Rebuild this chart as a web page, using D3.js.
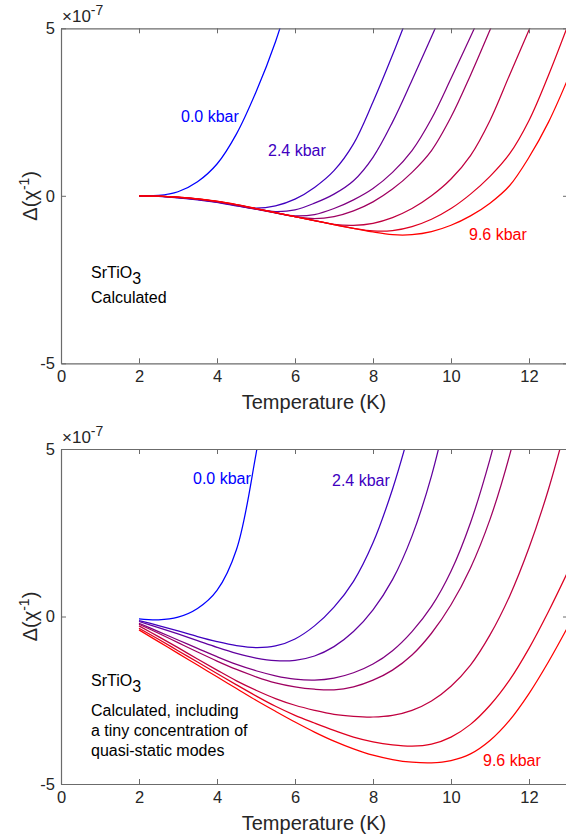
<!DOCTYPE html>
<html><head><meta charset="utf-8">
<script src="https://cdn.jsdelivr.net/npm/d3@7"></script>
<style>
html,body{margin:0;padding:0;background:#fff;}
svg{display:block;font-family:"Liberation Sans",Arial,Helvetica,sans-serif;}
</style></head>
<body><svg id="chart" width="566" height="840"></svg>
<script>
// ---------- DATA (values in units of 1e-7) ----------
const pressures = [0.0, 2.4, 3.6, 4.8, 6.0, 7.2, 8.4, 9.6];
const tStart = 2, tStep = 0.5;           // temperature grid of the sampled values (K)
const xTicks = [0, 2, 4, 6, 8, 10, 12];
const yTicks = [-5, 0, 5];

// Top panel: "Calculated"
const top00 = [0, 0.01, 0.12, 0.42, 0.95, 1.85, 3.1, 4.6, 6.5];
const top24 = [0, -0.015, -0.06, -0.12, -0.2, -0.3, -0.37, -0.3, -0.1, 0.25, 0.75, 1.55, 2.8, 4.2, 5.7];
const top36 = [0, -0.013, -0.055, -0.11, -0.19, -0.29, -0.4, -0.47, -0.42, -0.22, 0.05, 0.45, 1.15, 2.2, 3.45, 4.75, 6.05];
const top48 = [0, -0.012, -0.05, -0.105, -0.18, -0.28, -0.4, -0.51, -0.6, -0.56, -0.38, -0.12, 0.22, 0.7, 1.35, 2.3, 3.5, 4.75, 6.0];
const top60 = [0, -0.011, -0.047, -0.1, -0.175, -0.275, -0.39, -0.51, -0.62, -0.68, -0.62, -0.45, -0.18, 0.2, 0.7, 1.35, 2.35, 3.6, 4.95, 6.35];
const top72 = [0, -0.01, -0.044, -0.095, -0.17, -0.27, -0.385, -0.505, -0.625, -0.74, -0.85, -0.88, -0.82, -0.65, -0.38, 0.0, 0.5, 1.2, 2.25, 3.6, 4.95, 6.3];
const top84 = [0, -0.01, -0.042, -0.092, -0.165, -0.265, -0.38, -0.5, -0.62, -0.74, -0.86, -0.97, -1.05, -1.04, -0.92, -0.7, -0.38, 0.05, 0.58, 1.25, 2.25, 3.6, 5.1];
const top96 = [0, -0.01, -0.04, -0.09, -0.16, -0.26, -0.38, -0.5, -0.62, -0.74, -0.86, -0.97, -1.08, -1.16, -1.16, -1.07, -0.88, -0.6, -0.22, 0.3, 1.15, 2.2, 3.5];

// Bottom panel: "Calculated, including a tiny concentration of quasi-static modes"
const bot00 = [-0.07, -0.1, -0.02, 0.24, 0.78, 2.0, 4.85, 8.5];
const bot24 = [-0.12, -0.27, -0.43, -0.6, -0.75, -0.87, -0.93, -0.88, -0.67, -0.28, 0.28, 1.05, 2.2, 3.8, 5.8];
const bot36 = [-0.15, -0.33, -0.52, -0.72, -0.92, -1.1, -1.24, -1.32, -1.31, -1.18, -0.9, -0.45, 0.2, 1.1, 2.4, 4.2, 6.6];
const bot48 = [-0.2, -0.45, -0.7, -0.95, -1.2, -1.43, -1.62, -1.77, -1.87, -1.9, -1.84, -1.68, -1.42, -1.02, -0.45, 0.3, 1.35, 2.8, 4.7, 7.0];
const bot60 = [-0.23, -0.5, -0.78, -1.06, -1.33, -1.58, -1.8, -1.98, -2.1, -2.17, -2.19, -2.1, -1.9, -1.6, -1.15, -0.5, 0.35, 1.45, 2.9, 4.8, 7.2];
const bot72 = [-0.28, -0.6, -0.93, -1.27, -1.6, -1.92, -2.2, -2.45, -2.65, -2.8, -2.92, -2.98, -3.0, -2.95, -2.8, -2.52, -2.08, -1.45, -0.55, 0.6, 2.05, 3.8, 5.9];
const bot84 = [-0.35, -0.68, -1.02, -1.36, -1.7, -2.04, -2.37, -2.68, -2.95, -3.18, -3.4, -3.6, -3.74, -3.83, -3.87, -3.81, -3.6, -3.22, -2.65, -1.9, -0.95, 0.15, 1.35];
const bot96 = [-0.4, -0.75, -1.1, -1.45, -1.8, -2.15, -2.5, -2.83, -3.15, -3.45, -3.72, -3.95, -4.14, -4.27, -4.35, -4.37, -4.3, -4.1, -3.7, -3.1, -2.3, -1.35, -0.3];

const topSeries = [top00, top24, top36, top48, top60, top72, top84, top96];
const botSeries = [bot00, bot24, bot36, bot48, bot60, bot72, bot84, bot96];

// ---------- DRAW ----------
const svg = d3.select("#chart");
const axisColor = "#6b6b6b", textColor = "#262626";
const x = d3.scaleLinear().domain([0, 13]).range([61, 568]);
const color = p => d3.interpolateRgb("#0000ff", "#ff0000")(p / 9.6);

function panel(id, y0, y1, series, labels, notes) {
  const y = d3.scaleLinear().domain([-5, 5]).range([y1, y0]);
  const g = svg.append("g");
  g.append("clipPath").attr("id", id).append("rect")
    .attr("x", x(0)).attr("y", y0).attr("width", x(13) - x(0)).attr("height", y1 - y0);

  const line = d3.line().x(d => x(d[0])).y(d => y(d[1])).curve(d3.curveCatmullRom.alpha(0.5));
  const cg = g.append("g").attr("clip-path", `url(#${id})`);
  series.forEach((vals, i) => {
    const pts = vals.map((v, k) => [tStart + k * tStep, v]);
    cg.append("path").attr("d", line(pts)).attr("fill", "none")
      .attr("stroke", color(pressures[i])).attr("stroke-width", 1.25);
  });

  const fmt = d => String(d);
  const ax = [
    g.append("g").attr("transform", `translate(0,${y1})`).call(d3.axisBottom(x).tickValues(xTicks).tickFormat(fmt).tickSize(-5).tickSizeOuter(0).tickPadding(7)),
    g.append("g").attr("transform", `translate(0,${y0})`).call(d3.axisTop(x).tickValues(xTicks).tickFormat("").tickSize(-5).tickSizeOuter(0)),
    g.append("g").attr("transform", `translate(${x(0)},0)`).call(d3.axisLeft(y).tickValues(yTicks).tickFormat(fmt).tickSize(-5).tickSizeOuter(0).tickPadding(6)),
    g.append("g").attr("transform", `translate(${x(13)},0)`).call(d3.axisRight(y).tickValues(yTicks).tickFormat("").tickSize(-5).tickSizeOuter(0))
  ];
  ax.forEach(a => {
    a.select(".domain").attr("stroke", axisColor).attr("stroke-width", 1.2);
    a.selectAll(".tick line").attr("stroke", axisColor).attr("stroke-width", 1);
    a.selectAll(".tick text").attr("fill", textColor).style("font-size", "16.5px");
  });

  // exponent
  const ex = g.append("text").attr("x", x(0) + 1).attr("y", y0 - 6).attr("fill", textColor).style("font-size", "17px");
  ex.append("tspan").text("\u00d710");
  ex.append("tspan").attr("dy", -7).style("font-size", "14px").text("-7");

  // y label
  const yl = g.append("text").attr("transform", `translate(37,${(y0 + y1) / 2}) rotate(-90)`)
    .attr("text-anchor", "middle").attr("fill", textColor).style("font-size", "20px");
  yl.append("tspan").text("\u0394(\u03c7");
  yl.append("tspan").attr("dy", -8).style("font-size", "14px").text("-1");
  yl.append("tspan").attr("dy", 8).text(")");

  // x label
  g.append("text").attr("x", 314).attr("y", y1 + 46).attr("text-anchor", "middle")
    .attr("fill", textColor).style("font-size", "20px").text("Temperature (K)");

  labels.forEach(l => {
    g.append("text").attr("x", l.x).attr("y", l.y).attr("fill", color(l.p))
      .style("font-size", "16px").text(l.t);
  });
  notes.forEach(n => {
    const t = g.append("text").attr("x", 91).attr("y", n.y).attr("fill", "#000").style("font-size", "16px");
    if (n.sub) {
      t.append("tspan").text(n.t);
      t.append("tspan").attr("dy", 6).text(n.sub);
    } else t.text(n.t);
  });
}

panel("clipTop", 28.3, 363.3, topSeries,
  [{t: "0.0 kbar", p: 0.0, x: 181, y: 122}, {t: "2.4 kbar", p: 2.4, x: 268, y: 156}, {t: "9.6 kbar", p: 9.6, x: 469, y: 240}],
  [{t: "SrTiO", sub: "3", y: 278}, {t: "Calculated", y: 303}]);

panel("clipBot", 449, 784, botSeries,
  [{t: "0.0 kbar", p: 0.0, x: 193, y: 484}, {t: "2.4 kbar", p: 2.4, x: 332, y: 486}, {t: "9.6 kbar", p: 9.6, x: 483, y: 766}],
  [{t: "SrTiO", sub: "3", y: 686}, {t: "Calculated, including", y: 716}, {t: "a tiny concentration of", y: 736}, {t: "quasi-static modes", y: 756}]);
</script></body></html>
